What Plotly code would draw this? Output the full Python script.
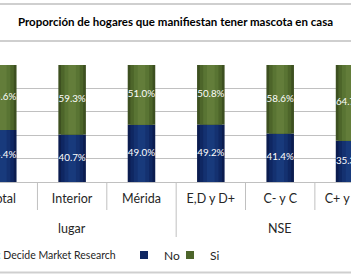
import plotly.graph_objects as go

groups = ["lugar", "lugar", "lugar", "NSE", "NSE", "NSE"]
categories = ["Total", "Interior", "Mérida", "E,D y D+", "C- y C", "C+ y A/B"]
no_vals = [44.4, 40.7, 49.0, 49.2, 41.4, 35.3]
si_vals = [55.6, 59.3, 51.0, 50.8, 58.6, 64.7]

title_text = "Proporción de hogares que manifiestan tener mascota en casa"
source_text = "Fuente: Decide Market Research"

FONT = "Lato, Calibri, Arial, sans-serif"
W, H = 351, 278

no_layers = [(0.397, "#0b1c4f"), (0.32, "#0f2762"), (0.22, "#143170"), (0.11, "#183a7c")]
si_layers = [(0.397, "#3d5020"), (0.32, "#4d652a"), (0.22, "#597433"), (0.11, "#637d3a")]

fig = go.Figure()
for w, c in no_layers:
    fig.add_trace(go.Bar(x=categories, y=no_vals, base=[0] * len(no_vals), width=w,
                         marker=dict(color=c, line=dict(width=0)),
                         showlegend=False, hoverinfo="skip"))
for w, c in si_layers:
    fig.add_trace(go.Bar(x=categories, y=si_vals, base=no_vals, width=w,
                         marker=dict(color=c, line=dict(width=0)),
                         showlegend=False, hoverinfo="skip"))

no_mid = [v / 2 for v in no_vals]
si_mid = [n + s / 2 for n, s in zip(no_vals, si_vals)]
fig.add_trace(go.Scatter(x=categories, y=no_mid, mode="text",
                         text=[f"{v:.1f}%" for v in no_vals],
                         textfont=dict(family=FONT, size=9.8, color="white"),
                         showlegend=False, hoverinfo="skip"))
fig.add_trace(go.Scatter(x=categories, y=si_mid, mode="text",
                         text=[f"{v:.1f}%" for v in si_vals],
                         textfont=dict(family=FONT, size=9.8, color="white"),
                         showlegend=False, hoverinfo="skip"))

fig.add_trace(go.Scatter(x=[None], y=[None], mode="markers", name="No", legend="legend",
                         marker=dict(symbol="square", size=8, color="#0f2762")))
fig.add_trace(go.Scatter(x=[None], y=[None], mode="markers", name="Si", legend="legend2",
                         marker=dict(symbol="square", size=8, color="#4d652a")))

H_PLOT = 117.0
def py(px):
    return (182.0 - px) / H_PLOT

grid = "#c0c0c0"
frame = "#cfcfcf"

shapes = []
for i in range(len(categories) - 1):
    group_change = groups[i] != groups[i + 1]
    shapes.append(dict(type="line", xref="x", yref="paper", x0=i + 0.5, x1=i + 0.5,
                       y0=0, y1=py(237 if group_change else 210),
                       line=dict(color=grid, width=1)))
for yy in (4, 41, 272.5):
    shapes.append(dict(type="line", xref="paper", yref="paper", x0=0, x1=1,
                       y0=py(yy), y1=py(yy), line=dict(color=frame, width=2)))

annotations = []
seen = []
for g in groups:
    if g not in seen:
        seen.append(g)
for g in seen:
    idx = [i for i, gg in enumerate(groups) if gg == g]
    annotations.append(dict(text=g, xref="x", yref="paper", x=sum(idx) / len(idx),
                            y=py(228), yanchor="middle", showarrow=False,
                            font=dict(family=FONT, size=12.5, color="#262626")))
annotations.append(dict(text=source_text, xref="paper", yref="paper", x=118 / W,
                        xanchor="right", y=py(255), yanchor="middle", showarrow=False,
                        font=dict(family=FONT, size=10.5, color="#262626")))

legend_common = dict(orientation="h", xref="container", yref="container",
                     yanchor="middle", y=1 - 255 / H, xanchor="left",
                     font=dict(family=FONT, size=12, color="#262626"), itemwidth=30,
                     bgcolor="rgba(0,0,0,0)")

fig.update_layout(
    width=W, height=H,
    margin=dict(l=0, r=0, t=65, b=96, autoexpand=False),
    paper_bgcolor="white", plot_bgcolor="white",
    barmode="overlay",
    font=dict(family=FONT, color="#262626"),
    title=dict(text="<b>" + title_text + "</b>", x=0.5, xanchor="center",
               y=1 - 22 / H, yanchor="middle", yref="container",
               font=dict(family=FONT, size=11.5, color="#000000")),
    xaxis=dict(type="category", range=[-0.040, 5.021],
               showgrid=False, showline=True, linecolor=grid, linewidth=1,
               ticks="", ticklabelstandoff=5, ticklabeloverflow="allow",
               tickfont=dict(family=FONT, size=12.5, color="#262626")),
    yaxis=dict(range=[0, 100], dtick=20, showgrid=True, gridcolor=grid, gridwidth=1,
               showticklabels=False, zeroline=False, ticks=""),
    legend=dict(**legend_common, x=124 / W),
    legend2=dict(**legend_common, x=170 / W),
    shapes=shapes,
    annotations=annotations,
)

fig.write_html("out.html")
